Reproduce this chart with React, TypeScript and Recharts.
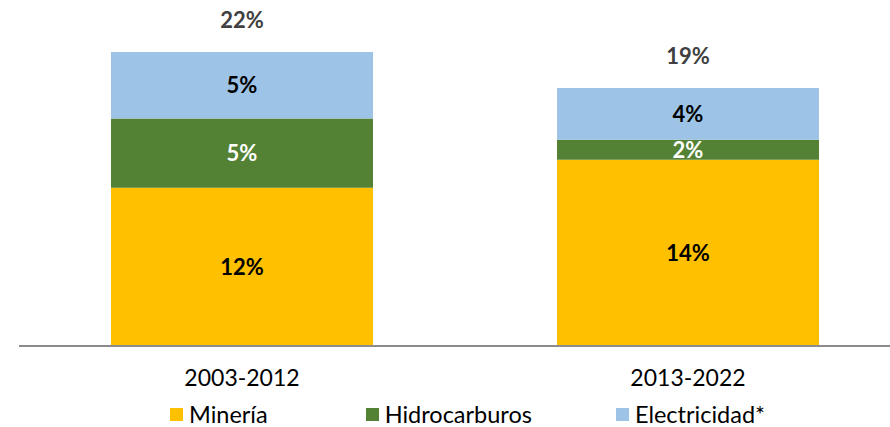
import { Bar, BarChart, LabelList, Legend, XAxis, YAxis } from "recharts";

const periods = ["2003-2012", "2013-2022"];
const mineria = [11.9, 14.0];
const hidrocarburos = [5.2, 1.5];
const electricidad = [5.0, 3.9];
const totals = [22, 19];

const series = [
  { key: "mineria", name: "Minería", color: "#FFC000", labelColor: "#000000" },
  { key: "hidrocarburos", name: "Hidrocarburos", color: "#548235", labelColor: "#FFFFFF" },
  { key: "electricidad", name: "Electricidad*", color: "#9DC3E6", labelColor: "#000000" },
];

const data = periods.map((period, i) => ({
  period,
  mineria: mineria[i],
  hidrocarburos: hidrocarburos[i],
  electricidad: electricidad[i],
  total: totals[i],
}));

const FONT = "Lato, 'Open Sans', sans-serif";

const pct = (v: unknown) => `${Math.round(Number(v))}%`;

// spacing before each legend entry, like the excel legend
const legendGaps = [170, 98, 84];

function LegendRow() {
  return (
    <div style={{ display: "flex", fontFamily: FONT, fontSize: 23.5, lineHeight: "23px", color: "#000" }}>
      {series.map((s, i) => (
        <div key={s.key} style={{ display: "flex", alignItems: "center", marginLeft: legendGaps[i] }}>
          <span style={{ width: 13, height: 13, background: s.color, marginRight: 6, display: "inline-block" }} />
          <span>{s.name}</span>
        </div>
      ))}
    </div>
  );
}

export default function App() {
  return (
    <div style={{ position: "absolute", left: 0, top: 0, width: 890, height: 427, overflow: "hidden", background: "#fff" }}>
      <BarChart width={911} height={427} data={data} margin={{ top: 13.5, right: 0, bottom: 0, left: 19 }}>
        <XAxis
          dataKey="period"
          height={81}
          tickLine={false}
          tickSize={0}
          tickMargin={24}
          axisLine={{ stroke: "#8c8c8c", strokeWidth: 2 }}
          tick={{ fontFamily: FONT, fontSize: 23, fill: "#000" }}
        />
        <YAxis hide domain={[0, 25]} />
        <Legend
          layout="horizontal"
          verticalAlign="middle"
          align="center"
          wrapperStyle={{ top: 403, left: 0, width: 911 }}
          content={() => <LegendRow />}
        />
        {series.map((s, idx) => (
          <Bar key={s.key} dataKey={s.key} name={s.name} stackId="a" fill={s.color} barSize={262} isAnimationActive={false}>
            <LabelList
              dataKey={s.key}
              position="center"
              formatter={pct}
              style={{ fontFamily: FONT, fontSize: 22, fontWeight: 700, fill: s.labelColor }}
            />
            {idx === series.length - 1 && (
              <LabelList
                dataKey="total"
                position="top"
                offset={24}
                formatter={pct}
                style={{ fontFamily: FONT, fontSize: 22, fontWeight: 700, fill: "#404040" }}
              />
            )}
          </Bar>
        ))}
      </BarChart>
    </div>
  );
}
